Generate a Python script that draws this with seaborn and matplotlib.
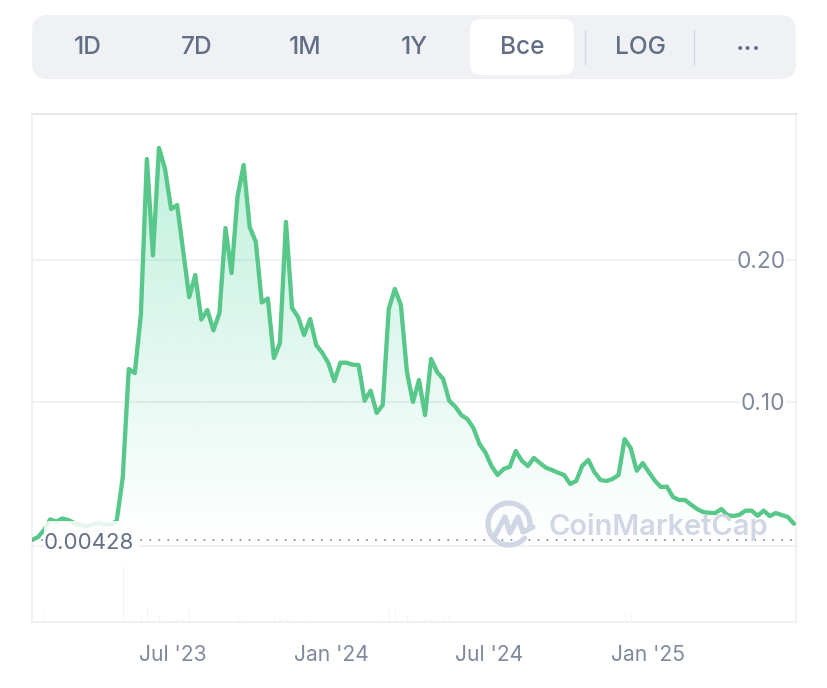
import numpy as np
import pandas as pd
import seaborn as sns
import matplotlib
matplotlib.use('Agg')
import matplotlib.pyplot as plt
from matplotlib.patches import FancyBboxPatch

# weekly closes
start_date = '2023-01-19'
prices = [
    0.0028, 0.0049, 0.0099, 0.0173, 0.0158, 0.0180, 0.0169, 0.0148, 0.0134, 0.0127,
    0.0137, 0.0148, 0.0137, 0.0137, 0.0162, 0.0465, 0.1232, 0.1204, 0.1613, 0.2711,
    0.2032, 0.2789, 0.2641, 0.2359, 0.2387, 0.2063, 0.1739, 0.1894, 0.1581, 0.1648,
    0.1504, 0.1627, 0.2225, 0.1908, 0.2451, 0.2669, 0.2232, 0.2130, 0.1701, 0.1729,
    0.1310, 0.1415, 0.2268, 0.1662, 0.1599, 0.1472, 0.1585, 0.1401, 0.1347, 0.1275,
    0.1148, 0.1277, 0.1277, 0.1263, 0.1261, 0.1009, 0.1080, 0.0923, 0.0979, 0.1655,
    0.1796, 0.1683, 0.1213, 0.1000, 0.1155, 0.0908, 0.1303, 0.1211, 0.1162, 0.1009,
    0.0967, 0.0908, 0.0880, 0.0817, 0.0704, 0.0643, 0.0549, 0.0486, 0.0528, 0.0544,
    0.0655, 0.0587, 0.0549, 0.0606, 0.0570, 0.0537, 0.0521, 0.0502, 0.0486, 0.0423,
    0.0444, 0.0551, 0.0592, 0.0507, 0.0451, 0.0444, 0.0458, 0.0486, 0.0739, 0.0676,
    0.0516, 0.0570, 0.0507, 0.0446, 0.0401, 0.0404, 0.0331, 0.0310, 0.0310, 0.0277,
    0.0246, 0.0225, 0.0220, 0.0218, 0.0246, 0.0204, 0.0197, 0.0206, 0.0235, 0.0235,
    0.0199, 0.0235, 0.0197, 0.0218, 0.0204, 0.0190, 0.0143,
]
# volume in arbitrary units
volumes = [
    0, 0, 11, 0, 0, 0, 0, 0, 0, 0, 0, 0, 0, 0, 0, 57, 4, 0, 8, 16,
    3, 8, 4, 3, 4, 4, 14, 0, 0, 0, 2, 2, 2, 0, 6, 4, 0, 0, 2, 2,
    6, 4, 6, 4, 2, 2, 4, 2, 2, 2, 2, 0, 0, 0, 0, 2, 2, 2, 4, 13,
    14, 4, 8, 4, 2, 4, 4, 4, 6, 8, 2, 2, 2, 2, 0, 0, 0, 2, 2, 2,
    0, 2, 2, 0, 0, 0, 0, 0, 0, 0, 0, 0, 0, 0, 0, 0, 0, 0, 9, 9,
    2, 2, 2, 0, 0, 2, 0, 0, 0, 0, 0, 0, 0, 0, 0, 0, 0, 0, 0, 0,
    0, 0, 0, 0, 0, 0, 0,
]
price_ticks = [0.10, 0.20]
price_tick_labels = ['0.10', '0.20']
date_ticks = ['2023-07-01', '2024-01-01', '2024-07-01', '2025-01-01']
date_tick_labels = ["Jul '23", "Jan '24", "Jul '24", "Jan '25"]
open_level = 0.0028
open_label = '0.00428'
range_labels = ['1D', '7D', '1M', '1Y', 'Bce', 'LOG']
range_label_x = [88, 197, 305, 414, 522, 640]

GREEN = '#58c78a'
GRID = '#eff1f5'
TEXT = '#616e85'
TICK = '#808a9d'
MARK = '#d0d6e3'

sns.set_theme(style='white')
plt.rcParams['font.family'] = ['Inter', 'DejaVu Sans']

df = pd.DataFrame({
    'date': pd.date_range(start_date, periods=len(prices), freq='7D'),
    'price': prices,
    'volume': volumes,
})

W, H = 828, 688
fig = plt.figure(figsize=(W / 100, H / 100), dpi=100, facecolor='white')

def box(x0, y0, x1, y1):
    return [x0 / W, 1 - y1 / H, (x1 - x0) / W, (y1 - y0) / H]

# page overlay, pixel coordinates
bg = fig.add_axes([0, 0, 1, 1], zorder=0)
bg.set_xlim(0, W)
bg.set_ylim(H, 0)
bg.axis('off')
bg.add_patch(FancyBboxPatch((32, 15), 764, 64, boxstyle='round,pad=0,rounding_size=16',
                            fc=GRID, ec=GRID, lw=0))
bg.add_patch(FancyBboxPatch((470, 19), 104, 56, boxstyle='round,pad=0,rounding_size=11',
                            fc='white', ec='white', lw=0))
bg.plot([585, 585], [30, 64], color='#d5dae6', lw=1)
bg.plot([694, 694], [30, 64], color=MARK, lw=1)
for label, x in zip(range_labels, range_label_x):
    bg.text(x, 47.5, label, ha='center', va='center', fontsize=17.6, color=TEXT, fontweight='medium')
bg.text(748, 50, '···', ha='center', va='center', fontsize=21, color=TEXT)

ax = fig.add_axes(box(32, 114, 796.5, 546), zorder=1)
vol = fig.add_axes(box(32, 546, 796.5, 622), zorder=1, sharex=ax)
ax.patch.set_alpha(0)
vol.patch.set_alpha(0)

# price line and gradient fill
ax.axhline(price_ticks[0], color=GRID, lw=1.5, zorder=0.2)
ax.axhline(price_ticks[1], color=GRID, lw=1.5, zorder=0.2)
fill = ax.fill_between(df['date'], df['price'], open_level, color='none', lw=0)
x_end = pd.Timestamp('2025-06-22')
grad = np.zeros((256, 1, 4))
grad[:, 0, :3] = matplotlib.colors.to_rgb('#16c784')
grad[:, 0, 3] = np.linspace(0.27, 0, 256)
im = ax.imshow(grad, aspect='auto', zorder=2, origin='upper',
               extent=[matplotlib.dates.date2num(df['date'].iloc[0]), matplotlib.dates.date2num(x_end), open_level, max(prices)])
im.set_clip_path(fill.get_paths()[0], transform=ax.transData)
sns.lineplot(data=df, x='date', y='price', color=GREEN, lw=3.1, ax=ax, zorder=3)
ax.axhline(open_level, color='#8f949d', lw=1.3, ls=(0, (1, 4)), zorder=4)

ax.set_xlim(df['date'].iloc[0], x_end)
ax.set_ylim(-0.0014, 0.3028)
ax.set_xlabel('')
ax.set_ylabel('')
ax.set_yticks(price_ticks)
ax.set_yticklabels(price_tick_labels)
ax.yaxis.tick_right()
ax.tick_params(axis='y', length=0, pad=-8, labelsize=16.4, labelcolor=TICK)
for lbl in ax.get_yticklabels():
    lbl.set_ha('right')
    lbl.set_bbox(dict(fc='white', ec='none', pad=0.5))
ax.tick_params(axis='x', length=0, labelbottom=False)
for side, spine in ax.spines.items():
    spine.set_color('#e6e8ea' if side == 'top' else GRID)
    spine.set_linewidth(1.5)

# volume strip
vol.bar(df['date'], df['volume'], width=2.3, color='#eceef4')
vol.set_ylim(0, 76)
vol.set_yticks([])
vol.set_xticks(pd.to_datetime(date_ticks))
vol.set_xticklabels(date_tick_labels)
vol.tick_params(axis='x', length=0, pad=16.5, labelsize=15.2, labelcolor=TICK)
vol.set_xlabel('')
for spine in vol.spines.values():
    spine.set_color(GRID)
    spine.set_linewidth(1.5)

# watermark and open-price badge on top
top = fig.add_axes([0, 0, 1, 1], zorder=2)
top.set_xlim(0, W)
top.set_ylim(H, 0)
top.axis('off')
top.patch.set_alpha(0)
theta = np.radians(np.linspace(-5, 318, 80))
top.plot(509 + 21 * np.cos(theta), 524 - 21 * np.sin(theta), color=MARK, lw=3.8, solid_capstyle='round')
top.plot([494, 505, 510, 518, 523, 533], [537, 517, 533, 517, 532, 527], color=MARK, lw=3.8,
         solid_joinstyle='round', solid_capstyle='round')
top.text(549, 527, 'CoinMarketCap', ha='left', va='center', fontsize=20.9, color=MARK, fontweight='semibold')
top.add_patch(FancyBboxPatch((44, 521), 96, 44, boxstyle='round,pad=0,rounding_size=5',
                             fc='white', ec='none', alpha=0.86))
top.text(89, 543, open_label, ha='center', va='center', fontsize=16, color=TEXT)

fig.savefig('out.png', dpi=100)
